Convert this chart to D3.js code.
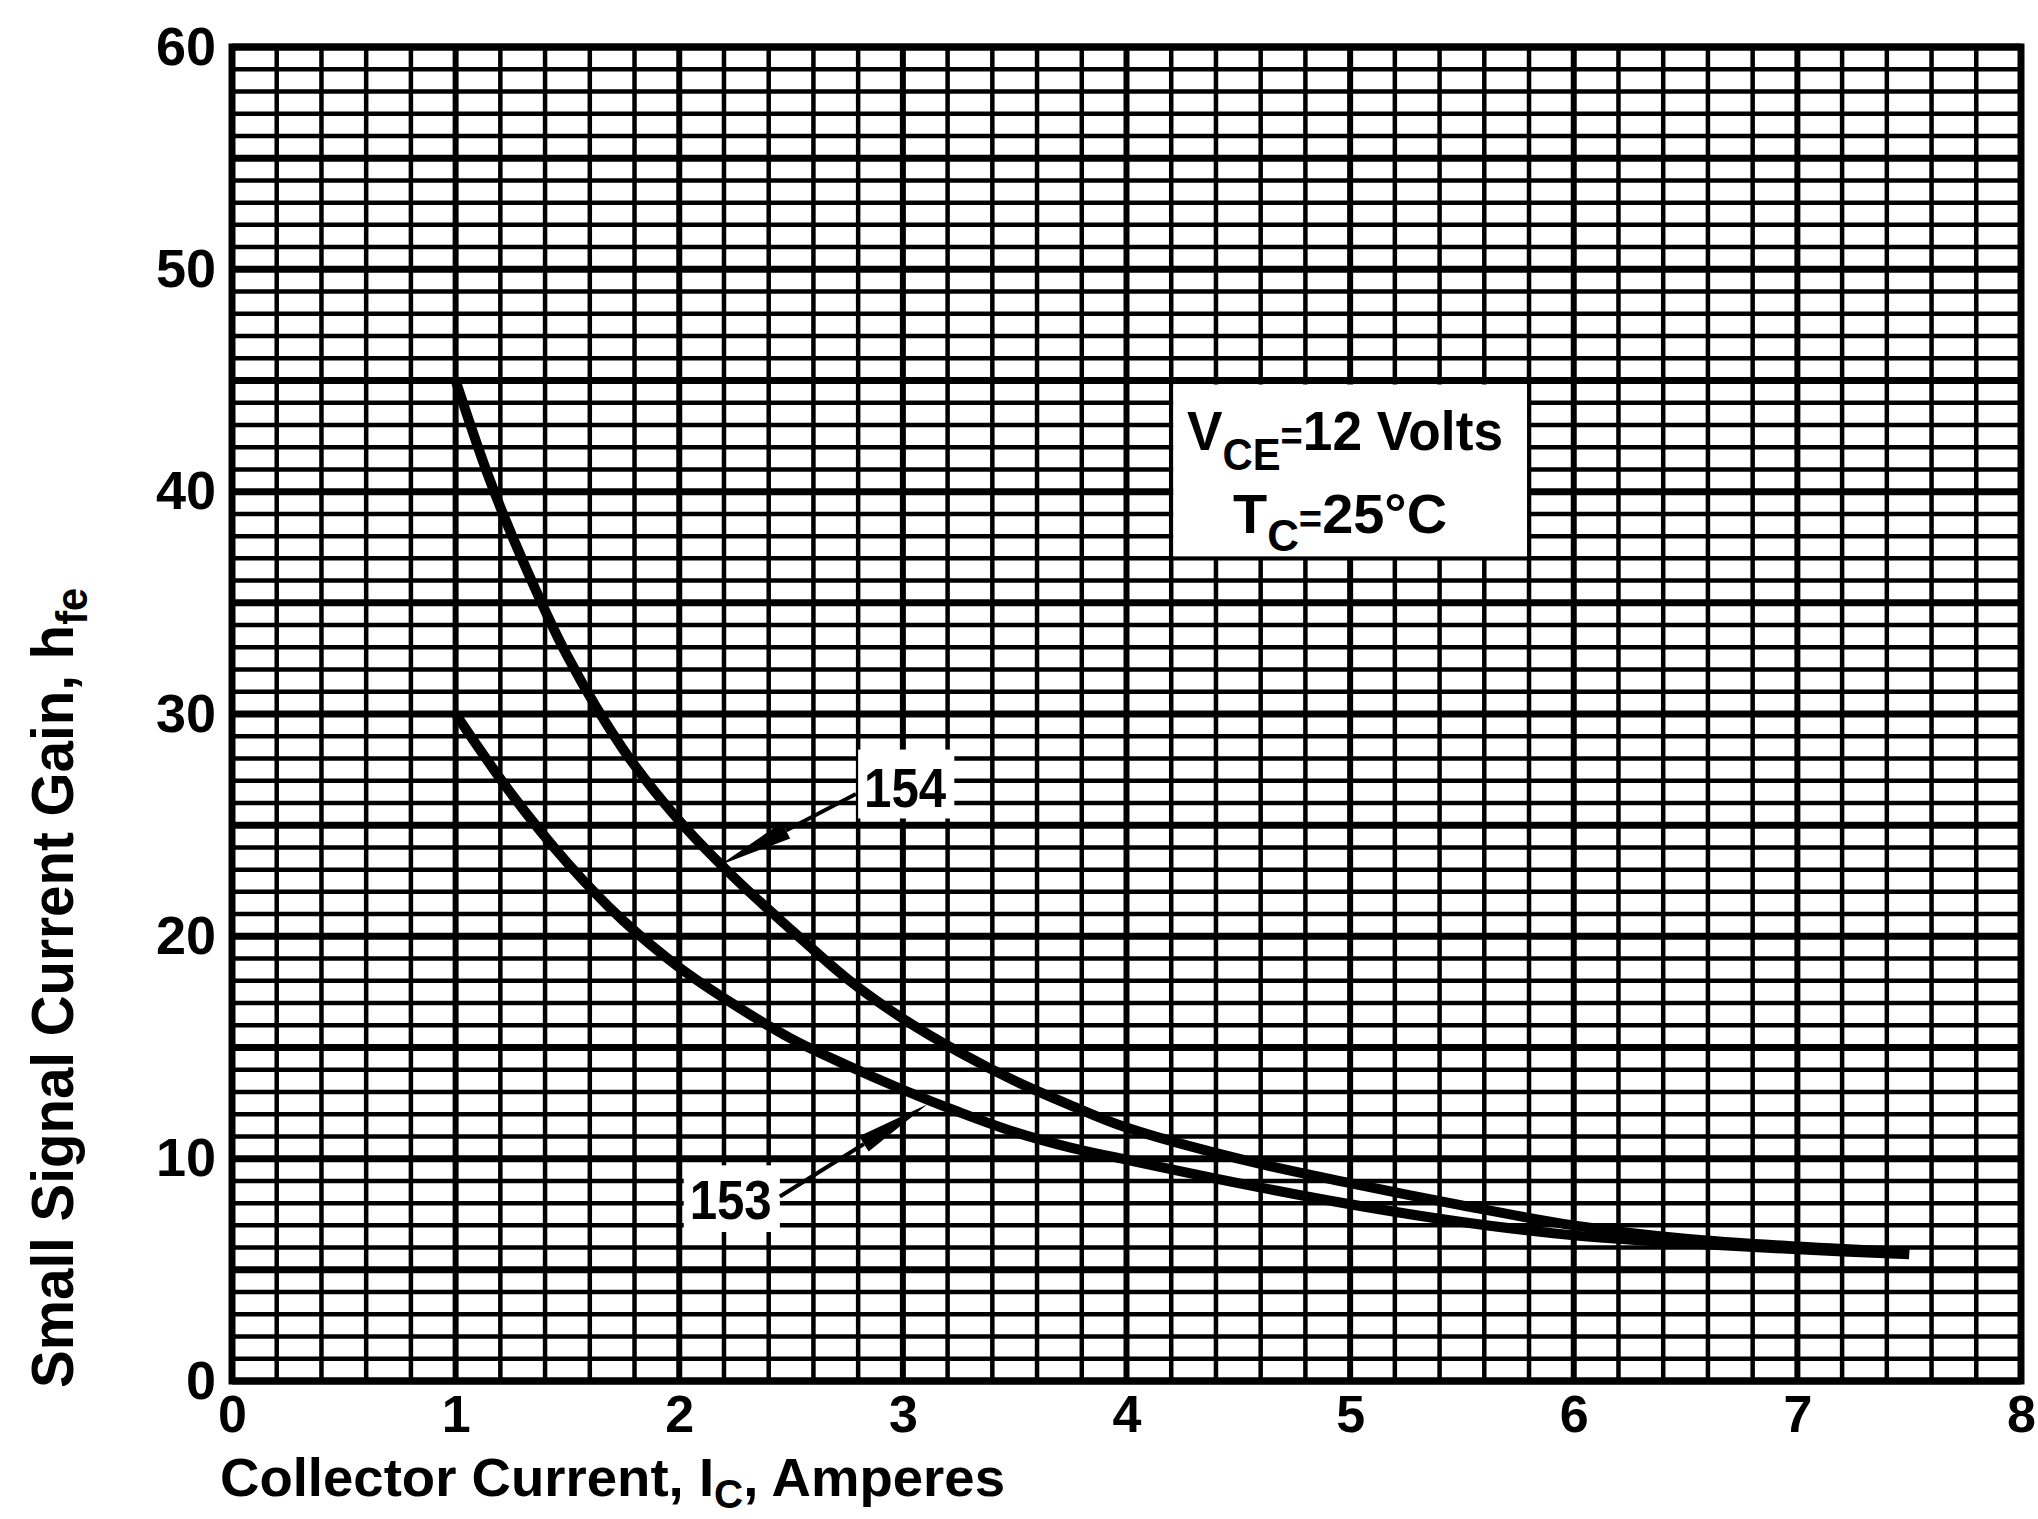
<!DOCTYPE html>
<html>
<head>
<meta charset="utf-8">
<script src="https://cdn.jsdelivr.net/npm/d3@7"></script>
<style>
  html, body { margin: 0; padding: 0; background: #fff; }
  svg text { font-family: "Liberation Sans", Arial, sans-serif; font-weight: bold; fill: #000; }
</style>
</head>
<body>
<svg id="chart" width="2038" height="1519"></svg>
<script>
// tick labels
const xTicks = [0, 1, 2, 3, 4, 5, 6, 7, 8]
const yTicks = [0, 10, 20, 30, 40, 50, 60]

// curve 154 (upper)
const current154 = [1.0, 1.15, 1.3, 1.5, 1.75, 2.0, 2.25, 2.5, 2.75, 3.0, 3.25, 3.5, 3.75, 4.0, 4.5, 5.0, 5.5, 6.0, 6.5, 7.0, 7.5]
const gain154    = [45.0, 40.6, 36.9, 32.6, 28.4, 25.2, 22.6, 20.3, 18.1, 16.3, 14.8, 13.5, 12.4, 11.4, 10.0, 8.9, 7.9, 7.0, 6.4, 6.05, 5.8]

// curve 153 (lower)
const current153 = [1.0, 1.25, 1.5, 1.75, 2.0, 2.25, 2.5, 2.75, 3.0, 3.25, 3.5, 3.75, 4.0, 4.5, 5.0, 5.5, 6.0, 6.5, 7.0, 7.5]
const gain153    = [30.0, 26.4, 23.3, 20.7, 18.6, 16.9, 15.4, 14.2, 13.1, 12.1, 11.2, 10.5, 9.95, 8.9, 7.95, 7.15, 6.55, 6.2, 5.92, 5.7]

// curve labels and their arrows (label anchor -> tip on curve)
const labelNames = ["154", "153"]
const arrowFrom  = [[2.79, 26.4], [2.45, 8.3]]
const arrowTo    = [[2.18, 23.2], [3.11, 12.45]]

const svg = d3.select("#chart")
const W = 2038, H = 1519
const m = { left: 232, right: 2021, top: 47, bottom: 1381 }

const x = d3.scaleLinear().domain([0, 8]).range([m.left, m.right])
const y = d3.scaleLinear().domain([0, 60]).range([m.bottom, m.top])

svg.append("rect").attr("width", W).attr("height", H).attr("fill", "#fff")

// grid
const grid = svg.append("g").attr("stroke", "#000")
grid.selectAll(".vx").data(x.ticks(40)).enter().append("line")
  .attr("x1", d => x(d)).attr("x2", d => x(d))
  .attr("y1", m.top).attr("y2", m.bottom)
  .attr("stroke-width", d => Math.abs(d - Math.round(d)) < 1e-6 ? 6 : 4.5)
grid.selectAll(".hy").data(y.ticks(60)).enter().append("line")
  .attr("x1", m.left).attr("x2", m.right)
  .attr("y1", d => y(d)).attr("y2", d => y(d))
  .attr("stroke-width", d => d % 5 === 0 ? 7 : 4.5)

svg.append("rect")
  .attr("x", m.left).attr("y", m.top)
  .attr("width", m.right - m.left).attr("height", m.bottom - m.top)
  .attr("fill", "none").attr("stroke", "#000").attr("stroke-width", 7)

// white box for the test conditions
svg.append("rect")
  .attr("x", x(4.2) + 2).attr("y", y(45) + 4)
  .attr("width", x(5.8) - x(4.2) - 4).attr("height", y(37) - y(45) - 6)
  .attr("fill", "#fff")

// white boxes behind the curve labels
const labelBoxes = [[2.8, 3.23, 25.3, 28.4], [2.02, 2.45, 6.7, 9.7]]
svg.selectAll(".lbox").data(labelBoxes).enter().append("rect")
  .attr("x", d => x(d[0])).attr("y", d => y(d[3]))
  .attr("width", d => x(d[1]) - x(d[0])).attr("height", d => y(d[2]) - y(d[3]))
  .attr("fill", "#fff")

// curves
const line = d3.line().x(d => x(d[0])).y(d => y(d[1])).curve(d3.curveCatmullRom.alpha(0.5))
const curves = [d3.zip(current154, gain154), d3.zip(current153, gain153)]
svg.selectAll(".curve").data(curves).enter().append("path")
  .attr("d", line)
  .attr("fill", "none").attr("stroke", "#000").attr("stroke-width", 10)

// arrows
labelNames.forEach((name, i) => {
  const p0 = [x(arrowFrom[i][0]), y(arrowFrom[i][1])]
  const p1 = [x(arrowTo[i][0]), y(arrowTo[i][1])]
  const len = Math.hypot(p1[0] - p0[0], p1[1] - p0[1])
  const ux = (p1[0] - p0[0]) / len, uy = (p1[1] - p0[1]) / len
  const b = [p1[0] - ux * 75, p1[1] - uy * 75]
  svg.append("line")
    .attr("x1", p0[0]).attr("y1", p0[1]).attr("x2", b[0]).attr("y2", b[1])
    .attr("stroke", "#000").attr("stroke-width", 4)
  svg.append("path")
    .attr("d", `M${p1[0]},${p1[1]}L${b[0] - uy * 9},${b[1] + ux * 9}L${b[0] + uy * 9},${b[1] - ux * 9}Z`)
    .attr("fill", "#000")
})

// curve label text
const labelPos = [[3.01, 25.8], [2.23, 7.3]]
svg.selectAll(".lbl").data(labelNames).enter().append("text")
  .attr("x", (d, i) => x(labelPos[i][0])).attr("y", (d, i) => y(labelPos[i][1]))
  .attr("text-anchor", "middle").attr("font-size", 56)
  .attr("textLength", 82).attr("lengthAdjust", "spacingAndGlyphs")
  .text(d => d)

// axes
const xAxis = svg.append("g").attr("transform", `translate(0,${m.bottom})`)
  .call(d3.axisBottom(x).tickValues(xTicks).tickSize(0).tickPadding(14).tickFormat(d3.format("d")))
xAxis.select(".domain").remove()
xAxis.selectAll("text").attr("font-size", 52).attr("font-family", null)

const yAxis = svg.append("g").attr("transform", `translate(${m.left},0)`)
  .call(d3.axisLeft(y).tickValues(yTicks).tickSize(0).tickPadding(16).tickFormat(d3.format("d")))
yAxis.select(".domain").remove()
yAxis.selectAll("text").attr("font-size", 54).attr("font-family", null)

// test conditions
const cond1 = svg.append("text").attr("x", 1187).attr("y", 450).attr("font-size", 56)
  .attr("textLength", 316).attr("lengthAdjust", "spacingAndGlyphs")
cond1.append("tspan").text("V")
cond1.append("tspan").attr("dy", 20).attr("font-size", 44).text("CE")
cond1.append("tspan").attr("dy", -20).attr("font-size", 40).text("=")
cond1.append("tspan").text("12 Volts")

const cond2 = svg.append("text").attr("x", 1233).attr("y", 533).attr("font-size", 56)
  .attr("textLength", 214).attr("lengthAdjust", "spacingAndGlyphs")
cond2.append("tspan").text("T")
cond2.append("tspan").attr("dy", 18).attr("font-size", 44).text("C")
cond2.append("tspan").attr("dy", -18).attr("font-size", 40).text("=")
cond2.append("tspan").text("25°C")

// axis titles
const xTitle = svg.append("text").attr("x", 220).attr("y", 1496).attr("font-size", 54)
  .attr("textLength", 785).attr("lengthAdjust", "spacingAndGlyphs")
xTitle.append("tspan").text("Collector Current, I")
xTitle.append("tspan").attr("dy", 12).attr("font-size", 40).text("C")
xTitle.append("tspan").attr("dy", -12).text(", Amperes")

const yTitle = svg.append("text")
  .attr("transform", "translate(73,1388) rotate(-90)")
  .attr("font-size", 60)
  .attr("textLength", 800).attr("lengthAdjust", "spacingAndGlyphs")
yTitle.append("tspan").text("Small Signal Current Gain, h")
yTitle.append("tspan").attr("dy", 14).attr("font-size", 44).text("fe")
</script>
</body>
</html>
